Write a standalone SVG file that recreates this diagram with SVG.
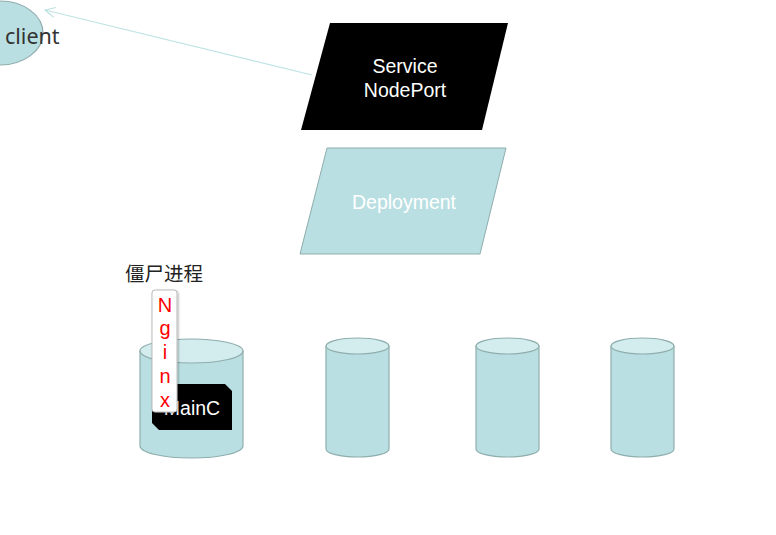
<svg xmlns="http://www.w3.org/2000/svg" width="776" height="535" viewBox="0 0 776 535">
<style>
.cyl{fill:#badfe2;stroke:#8fadad;stroke-width:1.2}
.cyltop{fill:#d3ecee;stroke:#8fadad;stroke-width:1.2}
.w{font-family:"Liberation Sans",Arial,sans-serif;font-size:19.5px;fill:#fff;text-anchor:middle}
.r{font-family:"Liberation Sans",Arial,sans-serif;font-size:20px;fill:#ff0000;text-anchor:middle}
</style>
<defs>
<marker id="arr" markerWidth="14" markerHeight="14" refX="11" refY="6" orient="auto" markerUnits="userSpaceOnUse">
<path d="M1,1 L11,6 L1,11" fill="none" stroke="#bfe3e6" stroke-width="1.2"/>
</marker>
<filter id="sh" x="-30%" y="-10%" width="160%" height="120%">
<feDropShadow dx="1" dy="1" stdDeviation="1" flood-color="#000" flood-opacity="0.3"/>
</filter>
</defs>
<rect width="776" height="535" fill="#fff"/>
<g id="client">
<ellipse cx="0" cy="33" rx="43" ry="32" fill="#badfe2" stroke="#8fadad" stroke-width="1.2"/>
<text x="5" y="44" font-family="'Noto Sans',sans-serif" font-size="21.5" fill="#333">client</text>
</g>
<g id="connectors">
<line x1="312" y1="75" x2="45" y2="10" stroke="#bfe3e6" stroke-width="1.2" marker-end="url(#arr)"/>
</g>
<g id="service">
<polygon points="330,23 508,23 482,130 301,130" fill="#000"/>
<text class="w" x="405" y="73">Service</text>
<text class="w" x="405" y="97">NodePort</text>
</g>
<g id="deployment">
<polygon points="327,148 506,148 480,254 300,254" fill="#badfe2" stroke="#8fadad" stroke-width="1"/>
<text class="w" x="404" y="209">Deployment</text>
</g>
<g id="pod1">
<path class="cyl" d="M140,351 L140,446 A51.5,12 0 0 0 243,446 L243,351 Z"/>
<ellipse class="cyltop" cx="191.5" cy="351" rx="51.5" ry="12"/>
<polygon points="152,384 225,384 232,391 232,430 159,430 152,423" fill="#000"/>
<text class="w" x="192" y="415">MainC</text>
</g>
<g id="nginx">
<rect x="152" y="290" width="25" height="122" rx="3" fill="#fff" stroke="#bbb" stroke-width="1" filter="url(#sh)"/>
<text class="r" x="165" y="312">N</text>
<text class="r" x="165" y="335">g</text>
<text class="r" x="165" y="359">i</text>
<text class="r" x="165" y="383">n</text>
<text class="r" x="165" y="407">x</text>
</g>
<g id="zombie">
<text x="125" y="281" font-family="'Noto Sans CJK SC',sans-serif" font-size="19.5" fill="#222">僵尸进程</text>
</g>
<g id="pod2">
<path class="cyl" d="M326,346 L326,449 A31.5,8 0 0 0 389,449 L389,346 Z"/>
<ellipse class="cyltop" cx="357.5" cy="346" rx="31.5" ry="8"/>
</g>
<g id="pod3">
<path class="cyl" d="M476,346 L476,449 A31.5,8 0 0 0 539,449 L539,346 Z"/>
<ellipse class="cyltop" cx="507.5" cy="346" rx="31.5" ry="8"/>
</g>
<g id="pod4">
<path class="cyl" d="M611,346 L611,449 A31.5,8 0 0 0 674,449 L674,346 Z"/>
<ellipse class="cyltop" cx="642.5" cy="346" rx="31.5" ry="8"/>
</g>
</svg>
